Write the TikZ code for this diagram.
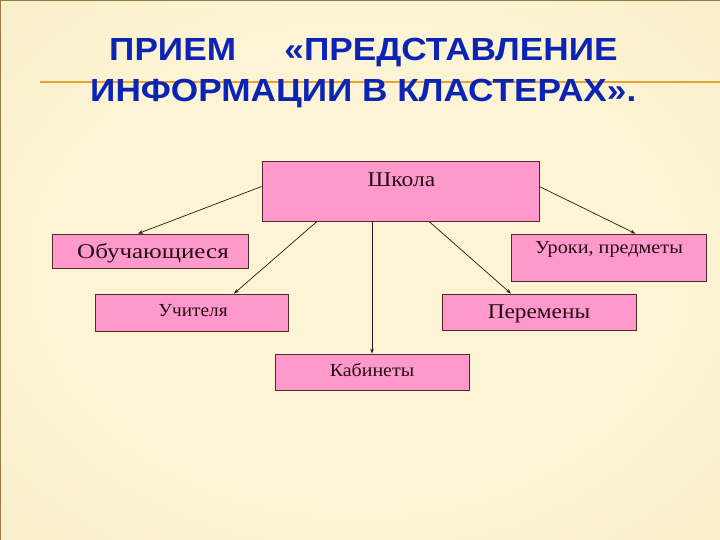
\documentclass[tikz,border=0pt]{standalone}
\usepackage{fontspec}
\usepackage{graphicx}
\setmainfont{Liberation Serif}
\newfontfamily\titlefont{Liberation Sans}
\usetikzlibrary{arrows.meta,calc}
\definecolor{bgin}{RGB}{252,244,212}
\definecolor{bgmid}{RGB}{243,228,176}
\definecolor{bgout}{RGB}{224,196,128}
\definecolor{titleblue}{RGB}{12,36,182}
\definecolor{rulecol}{RGB}{232,162,52}
\definecolor{boxpink}{RGB}{255,153,204}
\definecolor{boxline}{RGB}{85,40,45}
\definecolor{boxtextcol}{RGB}{35,12,20}
\definecolor{linkcol}{RGB}{35,25,20}
\definecolor{framecol}{RGB}{150,122,75}
\pgfdeclareradialshading{bgshade}{\pgfpoint{0bp}{0bp}}{color(0bp)=(bgin); color(22bp)=(bgin); color(62bp)=(bgmid); color(100bp)=(bgout)}
\newcommand{\boxtext}[5]{\fontsize{#1}{#1}\selectfont\smash{\raisebox{#2}{\hspace*{#3}\scalebox{#4}[1]{#5}}}}
\tikzset{
  box/.style={draw=boxline, line width=0.8pt, fill=boxpink, inner sep=0pt, text=boxtextcol},
  link/.style={draw=linkcol, line width=0.7pt, -{Stealth[length=5pt,width=3.6pt]}},
  titletext/.style={font=\titlefont\bfseries\fontsize{32}{38}\selectfont, text=titleblue, inner sep=0pt, anchor=base west}
}
\begin{document}
\begin{tikzpicture}[x=1pt,y=-1pt]
\useasboundingbox (0,0) rectangle (720,540);
\shade[shading=bgshade] (0,0) rectangle (720,540);
\draw[framecol, line width=1.5pt] (0.5,540) -- (0.5,0.5) -- (720,0.5);
\coordinate (r1) at (40,82);
\coordinate (r2) at (720,82);
\draw[rulecol, line width=2pt] (r1) -- (r2);
\node[titletext] (t1) at (109,60.5) {\scalebox{1.1}[1]{ПРИЕМ\hspace*{44pt}«ПРЕДСТАВЛЕНИЕ}};
\node[titletext] (t2) at (90,102) {\scalebox{1.1}[1]{ИНФОРМАЦИИ В КЛАСТЕРАХ».}};

\node[box, minimum width=277pt, minimum height=60pt] (school) at (400.5,191)
  {\boxtext{21}{4.5pt}{2pt}{1.12}{Школа}};
\node[box, minimum width=196pt, minimum height=34pt] (obuch) at (150,251)
  {\boxtext{21}{-7.7pt}{6pt}{1.19}{Обучающиеся}};
\node[box, minimum width=195pt, minimum height=47pt] (uroki) at (608.5,257.5)
  {\boxtext{18.4}{4.2pt}{1pt}{1.1}{Уроки, предметы}};
\node[box, minimum width=193pt, minimum height=37pt] (uchit) at (191.5,312.5)
  {\boxtext{18.4}{-4.2pt}{3pt}{1.05}{Учителя}};
\node[box, minimum width=194pt, minimum height=36pt] (perem) at (539,312)
  {\boxtext{21}{-6.7pt}{0pt}{1.11}{Перемены}};
\node[box, minimum width=194pt, minimum height=36pt] (kabin) at (372,372)
  {\boxtext{18.4}{-4.7pt}{0pt}{1.085}{Кабинеты}};

\draw[link] ([yshift=4.5pt]school.west) -- ([xshift=-12pt]obuch.north);
\draw[link] ([xshift=-83.5pt]school.south) -- ([xshift=42.5pt]uchit.north);
\draw[link] ([xshift=-28.5pt]school.south) -- (kabin.north);
\draw[link] ([xshift=28.5pt]school.south) -- ([xshift=-28pt]perem.north);
\draw[link] ([yshift=4.5pt]school.east) -- ([xshift=27pt]uroki.north);
\end{tikzpicture}
\end{document}
